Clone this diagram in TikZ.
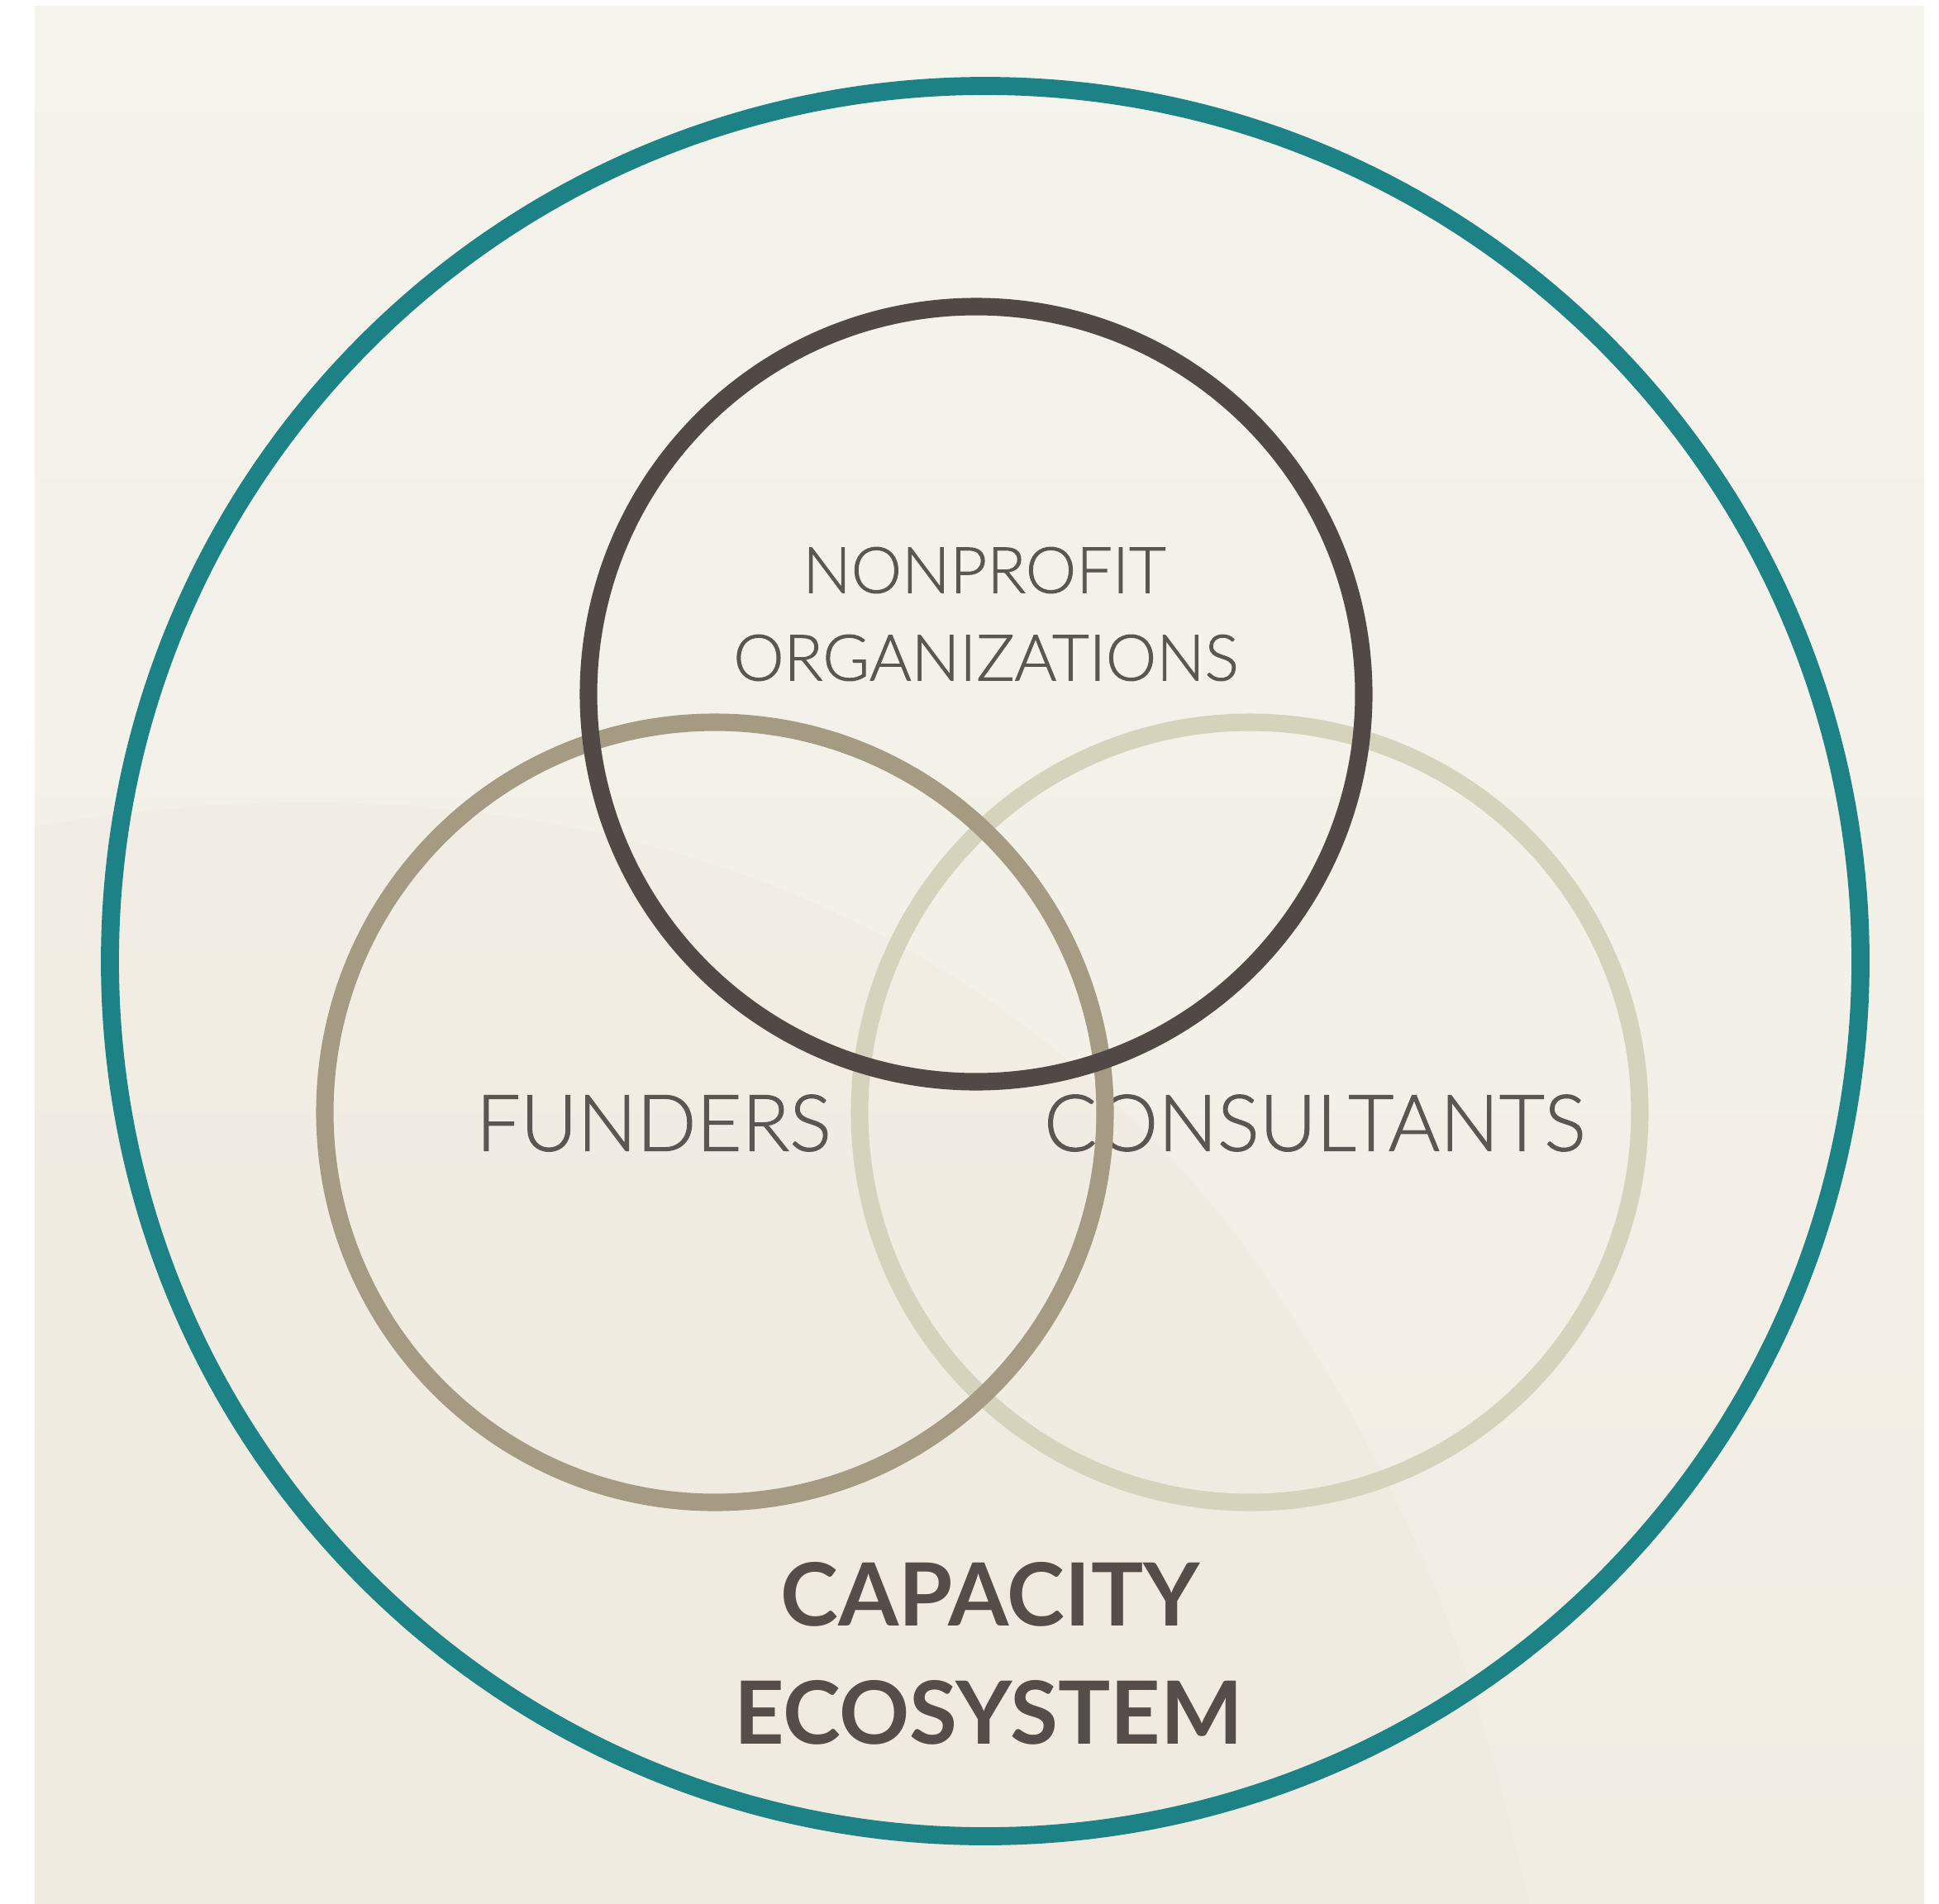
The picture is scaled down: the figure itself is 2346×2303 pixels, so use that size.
\documentclass[tikz,border=0pt]{standalone}
\usepackage{fontspec}
\setmainfont{Lato}
\newfontfamily\labelfont{Lato Light}[FakeBold=1.2]
\definecolor{bgtop}{RGB}{244,243,236}
\definecolor{bgbot}{RGB}{242,237,227}
\definecolor{bgshade}{RGB}{234,228,215}
\definecolor{ringteal}{RGB}{28,130,134}
\definecolor{npdark}{RGB}{80,73,70}
\definecolor{fundtaupe}{RGB}{164,155,130}
\definecolor{conspale}{RGB}{214,211,188}
\definecolor{labelgray}{RGB}{92,86,83}
\definecolor{titlegray}{RGB}{84,77,74}
\tikzset{
  ring/.style={line width=6.2pt},
  venn/.style={line width=6pt},
  label text/.style={text=labelgray, font=\labelfont\fontsize{22}{26}\selectfont, inner sep=0pt, align=center},
  big label/.style={label text, font=\labelfont\fontsize{27}{32}\selectfont},
  title text/.style={text=titlegray, font=\bfseries\fontsize{30}{40}\selectfont, inner sep=0pt, align=center}
}
\begin{document}
\begin{tikzpicture}[x=0.01cm,y=-0.01cm]
  \useasboundingbox (0,0) rectangle (2346,2303);
  % paper and panel
  \fill[white] (0,0) rectangle (2346,2303);
  \shade[top color=bgtop, bottom color=bgbot] (42,8) rectangle (2328,2303);
  % faint soft shadow in the lower left of the panel
  \fill[bgshade, opacity=0.22] (42,1000) .. controls (500,920) and (1100,980) .. (1500,1500)
        .. controls (1750,1850) and (1800,2100) .. (1850,2303) -- (42,2303) -- cycle;

  % centres of the circles
  \coordinate (eco) at (1192,1163);
  \coordinate (npc) at (1181,840);
  \coordinate (fnc) at (865,1346);
  \coordinate (csc) at (1512,1346);

  % labels
  \node[label text] (np1) at (1191,690) {NONPROFIT};
  \node[label text] (np2) at (1193,796) {ORGANIZATIONS};
  \node[big label] (fund) at (791,1359) {FUNDERS};
  \node[big label] (cons) at (1591,1359) {CONSULTANTS};
  \node[title text] (cap) at (1198,1929) {CAPACITY};
  \node[title text] (ecosys) at (1196,2072) {ECOSYSTEM};

  % outer ecosystem ring
  \draw[ring, ringteal] (eco) circle[radius=1059];
  % three overlapping circles
  \draw[venn, conspale] (csc) circle[radius=472];
  \draw[venn, fundtaupe] (fnc) circle[radius=472];
  \draw[venn, npdark] (npc) circle[radius=469];
\end{tikzpicture}
\end{document}
